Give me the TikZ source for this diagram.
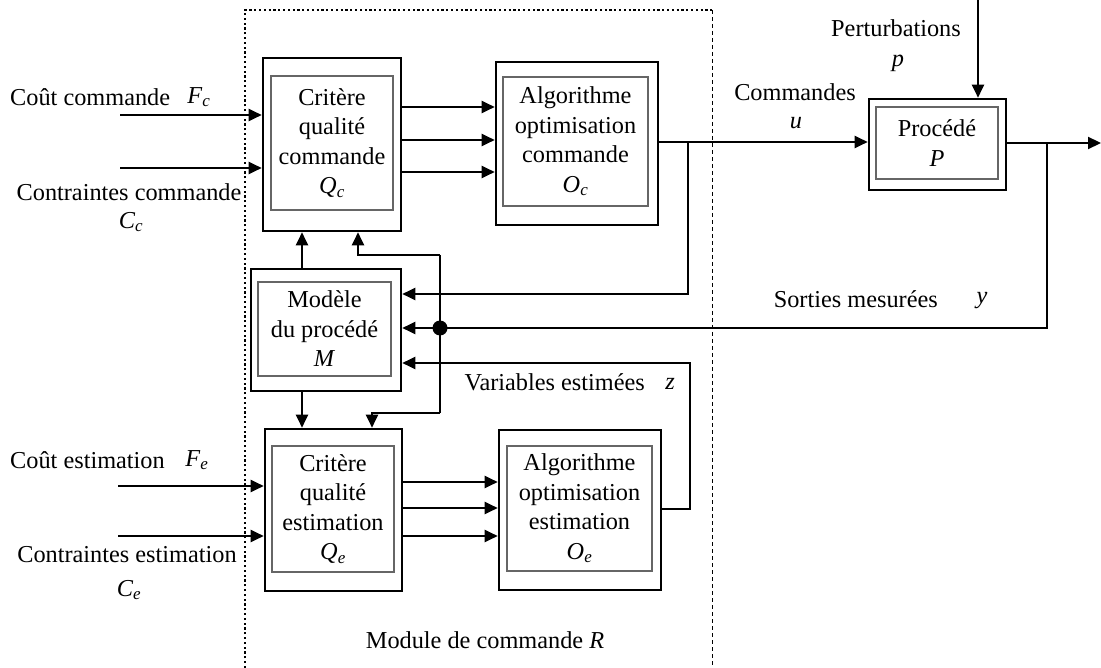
\documentclass[tikz,border=0pt]{standalone}
\usepackage{fontspec}
\setmainfont{Liberation Serif}
\usetikzlibrary{arrows.meta}
\newcommand\sv[2]{\textit{#1}\textsubscript{\textit{#2}}}
\begin{document}
\begin{tikzpicture}[x=1pt,y=-1pt,
  every node/.style={font=\fontsize{24.3}{29.5}\selectfont, inner sep=0pt},
  outerbox/.style={draw, line width=2.6pt, rectangle},
  innerbox/.style={draw=black!60, line width=1.2pt, rectangle, align=center},
  ln/.style={line width=2.2pt},
  arr/.style={line width=2.2pt, -{Triangle[length=13pt,width=12pt]}},
  framedot/.style={line width=2.2pt, dash pattern=on 2.2pt off 2.6pt},
  framedash/.style={line width=1pt, dash pattern=on 4pt off 3pt}]
\useasboundingbox (0,0) rectangle (1101,668);

% module frame
\coordinate (ftl) at (245,10);
\coordinate (ftr) at (712,10);
\coordinate (fbl) at (245,668);
\coordinate (fbr) at (712,668);
\draw[framedot] (fbl) -- (ftl) -- (ftr);
\draw[framedash] (ftr) -- (fbr);

% boxes
\node[outerbox, minimum width=138pt, minimum height=173pt] (qc) at (332,144.5) {};
\node[innerbox, minimum width=122pt, minimum height=134pt] (qci) at (332,143) {Critère\\qualité\\commande\\\sv{Q}{c}};

\node[outerbox, minimum width=162pt, minimum height=163pt] (oc) at (577,143.5) {};
\node[innerbox, minimum width=145pt, minimum height=129pt] (oci) at (575.5,141.5) {Algorithme\\optimisation\\commande\\\sv{O}{c}};

\node[outerbox, minimum width=150pt, minimum height=122pt] (m) at (326,330) {};
\node[innerbox, minimum width=133pt, minimum height=94pt] (mi) at (324.5,329) {Modèle\\du procédé\\\textit{M}};

\node[outerbox, minimum width=137pt, minimum height=162pt] (qe) at (333.5,510) {};
\node[innerbox, minimum width=122pt, minimum height=126pt] (qei) at (333,509) {Critère\\qualité\\estimation\\\sv{Q}{e}};

\node[outerbox, minimum width=162pt, minimum height=160pt] (oe) at (580,510) {};
\node[innerbox, minimum width=145pt, minimum height=125pt] (oei) at (579.5,508.5) {Algorithme\\optimisation\\estimation\\\sv{O}{e}};

\node[outerbox, minimum width=137pt, minimum height=91pt] (p) at (937.5,144.5) {};
\node[innerbox, minimum width=122pt, minimum height=72pt] (pi) at (937,143) {Procédé\\\textit{P}};

% labels
\node[anchor=west] (lfc) at (10,97) {Coût commande};
\node (lfcv) at (199,97) {\sv{F}{c}};
\node (lcc) at (129,192) {Contraintes commande};
\node (lccv) at (131,222) {\sv{C}{c}};
\node[anchor=west] (lfe) at (10,460) {Coût estimation};
\node (lfev) at (197,460) {\sv{F}{e}};
\node (lce) at (127,555) {Contraintes estimation};
\node (lcev) at (129,590) {\sv{C}{e}};
\node (lu) at (795,92) {Commandes};
\node (luv) at (796,123) {\textit{u}};
\node (lp) at (896,28) {Perturbations};
\node (lpv) at (898,63) {\textit{p}};
\node[anchor=east] (ly) at (938,299) {Sorties mesurées};
\node (lyv) at (982,301) {\textit{y}};
\node[anchor=east] (lz) at (645,382) {Variables estimées};
\node (lzv) at (670,384) {\textit{z}};
\node (lmod) at (485,640) {Module de commande \textit{R}};

% inputs to Qc
\coordinate (fc) at (120,115);
\coordinate (cc) at (120,168);
\draw[arr] (fc) -- (fc -| qc.west);
\draw[arr] (cc) -- (cc -| qc.west);

% Qc -> Oc
\coordinate (a1) at (0,107);
\coordinate (a2) at (0,140);
\coordinate (a3) at (0,172);
\foreach \k in {a1,a2,a3} \draw[arr] (qc.east |- \k) -- (oc.west |- \k);

% Oc -> P, feedback to M
\coordinate (j1) at (688,142);
\coordinate (uy) at (0,294);
\draw[ln] (oc.east |- j1) -- (j1);
\draw[arr] (j1) -- (j1 -| p.west);
\draw[arr] (j1) |- (m.east |- uy);

% perturbations
\coordinate (pt) at (978,0);
\draw[arr] (pt) -- (pt |- p.north);

% P output and measured outputs
\coordinate (out) at (1101,143);
\coordinate (j2) at (1047,143);
\coordinate (dot) at (440,328);
\draw[arr] (p.east |- out) -- (out);
\draw[ln] (j2) |- (dot);
\draw[arr] (dot) -- (dot -| m.east);
\fill (dot) circle (7.5);

% bus to Qc and Qe
\coordinate (vt) at (440,255);
\coordinate (vb) at (440,413);
\coordinate (x1) at (358,0);
\coordinate (x2) at (372,0);
\coordinate (x3) at (302,0);
\draw[ln] (vt) -- (vb);
\draw[arr] (vt) -| (x1 |- qc.south);
\draw[arr] (vb) -| (x2 |- qe.north);
\draw[arr] (x3 |- m.north) -- (x3 |- qc.south);
\draw[arr] (x3 |- m.south) -- (x3 |- qe.north);

% inputs to Qe
\coordinate (fe) at (118,486);
\coordinate (ce) at (118,536);
\draw[arr] (fe) -- (fe -| qe.west);
\draw[arr] (ce) -- (ce -| qe.west);

% Qe -> Oe
\coordinate (b1) at (0,482);
\coordinate (b2) at (0,508);
\coordinate (b3) at (0,536);
\foreach \k in {b1,b2,b3} \draw[arr] (qe.east |- \k) -- (oe.west |- \k);

% Oe output -> M
\coordinate (zo) at (690,509);
\coordinate (zy) at (0,363);
\draw[arr] (oe.east |- zo) -- (zo) |- (m.east |- zy);
\end{tikzpicture}
\end{document}
